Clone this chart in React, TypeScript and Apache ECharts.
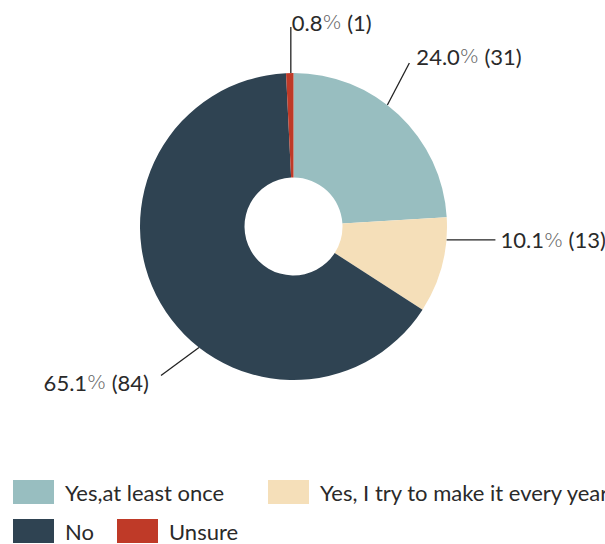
import React, { useEffect, useRef } from "react";
import * as echarts from "echarts";

const categories = ["Yes,at least once", "Yes, I try to make it every year", "No", "Unsure"];
const counts = [31, 13, 84, 1];
const colors = ["#98bec0", "#f5dfb9", "#2f4352", "#bf3a28"];

// label guide layout (angle in degrees, line end offset, text offset)
const guides = [
  { angle: 52.3, ex: 22, ey: -42, tx: 7, ty: -7, align: "left" },
  { angle: -5, ex: 49, ey: 0, tx: 5, ty: 0, align: "left" },
  { angle: 232, ex: -38, ey: 28, tx: -12, ty: 7, align: "right" },
  { angle: 91, ex: 0, ey: -46, tx: 1, ty: -5, align: "left" },
];

const CX = 293.5;
const CY = 226.5;
const R_OUT = 153.5;
const R_IN = 49;

export default function App() {
  const ref = useRef<HTMLDivElement>(null);
  useEffect(() => {
    document.body.style.margin = "0";
    const chart = echarts.init(ref.current!, null, { renderer: "svg" });
    const total = counts.reduce((a, b) => a + b, 0);
    const font = "Lato, sans-serif";
    const legendBase = {
      orient: "horizontal",
      itemWidth: 41,
      itemHeight: 24,
      icon: "rect",
      padding: 0,
      textStyle: { fontFamily: font, fontSize: 22, color: "#2a2a2a", padding: [0, 0, 0, 6] },
      selectedMode: false,
    };
    chart.setOption({
      animation: false,
      color: colors,
      legend: [
        { ...legendBase, data: [categories[0]], left: 13, top: 480 },
        { ...legendBase, data: [categories[1]], left: 268, top: 480 },
        { ...legendBase, data: [categories[2]], left: 13, top: 519 },
        { ...legendBase, data: [categories[3]], left: 117, top: 519 },
      ],
      series: [
        {
          type: "pie",
          center: [CX, CY],
          radius: [R_IN, R_OUT],
          startAngle: 90,
          clockwise: true,
          data: categories.map((name, i) => ({ name, value: counts[i] })),
          label: {
            show: true,
            fontFamily: font,
            fontSize: 22,
            color: "#2a2a2a",
            formatter: (p: any) =>
              `${((p.value / total) * 100).toFixed(1)}{pct|%} (${p.value})`,
            rich: {
              pct: { fontFamily: "'DejaVu Sans', sans-serif", fontSize: 20, color: "#666", fontWeight: 200 },
            },
          },
          labelLine: { show: true, length: 20, length2: 0, lineStyle: { color: "#222", width: 1.3 } },
          labelLayout: (params: any) => {
            const g = guides[params.dataIndex];
            const a = (g.angle * Math.PI) / 180;
            const sx = CX + R_OUT * Math.cos(a);
            const sy = CY - R_OUT * Math.sin(a);
            const exx = sx + g.ex;
            const eyy = sy + g.ey;
            return {
              x: exx + g.tx,
              y: eyy + g.ty,
              align: g.align,
              verticalAlign: "middle",
              labelLinePoints: [
                [sx, sy],
                [exx, eyy],
                [exx, eyy],
              ],
            };
          },
          emphasis: { disabled: true },
        },
      ],
    });
    return () => chart.dispose();
  }, []);
  return <div ref={ref} style={{ width: 605, height: 544 }} />;
}
